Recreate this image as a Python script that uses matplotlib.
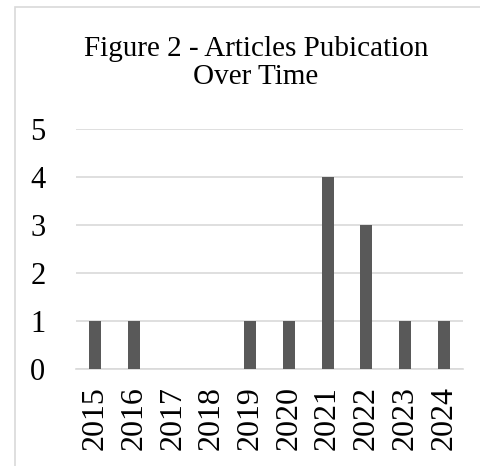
import matplotlib
matplotlib.use('Agg')
import matplotlib.pyplot as plt
from matplotlib.patches import Rectangle

plt.rcParams['font.family'] = ['Liberation Serif', 'DejaVu Serif']

years = ['2015', '2016', '2017', '2018', '2019', '2020', '2021', '2022', '2023', '2024']
articles = [1, 1, 0, 0, 1, 1, 4, 3, 1, 1]

fig = plt.figure(figsize=(4.81, 4.66), dpi=100)
ax = fig.add_axes([76/481, 1 - 369/466, 387/481, 240/466])

ax.bar(range(len(years)), articles, width=0.31, color='#595959', zorder=3)
ax.set_xlim(-0.5, len(years) - 0.5)
ax.set_ylim(0, 5)
ax.set_yticks(range(6))
ax.set_xticks(range(len(years)))
ax.set_xticklabels(years, rotation=90, fontsize=23)
ax.tick_params(axis='y', labelsize=22, length=0, pad=22)
ax.tick_params(axis='x', length=0, pad=12)
ax.grid(axis='y', color='#d9d9d9', linewidth=1.2, zorder=0)
for s in ['top', 'right', 'left']:
    ax.spines[s].set_visible(False)
ax.spines['bottom'].set_color('#d9d9d9')
ax.spines['bottom'].set_linewidth(1.2)

fig.text(256/481, 1 - 63/466, 'Figure 2 - Articles Pubication\nOver Time', ha='center', va='center',
         fontsize=21, linespacing=1.1)

# chart frame
fig.patches.append(Rectangle((15/481, -0.05), 1.0, 1 - 7/466 + 0.05, transform=fig.transFigure,
                             fill=False, edgecolor='#d9d9d9', linewidth=1.2))

fig.savefig('out.png', dpi=100)
